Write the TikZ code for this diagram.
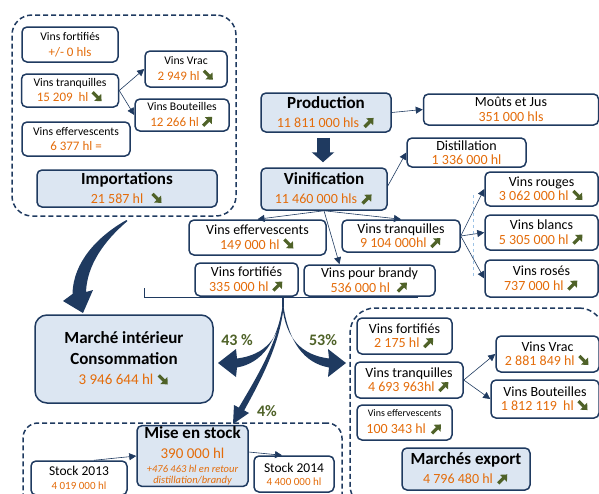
\documentclass[tikz,border=0pt]{standalone}
\usepackage{fontspec}
\setmainfont{Carlito}
\usetikzlibrary{positioning,fit,arrows.meta}
\definecolor{wfnavy}{HTML}{1F3A60}
\definecolor{wfpale}{HTML}{DCE6F2}
\definecolor{wforange}{HTML}{E46C0A}
\definecolor{wfgreen}{HTML}{4F6228}
\definecolor{wfguide}{HTML}{9DC3E6}
\newcommand\wfsmall{\fontsize{11.7}{15.5}\selectfont}
\newcommand\wfmain{\fontsize{14}{14.5}\selectfont}
\newcommand\wfhead{\fontsize{17}{19}\selectfont\bfseries}
\newcommand\wfpct{\fontsize{16}{18}\selectfont\bfseries}
\newcommand\wfval[1]{{\color{wforange}#1}}
\newcommand\wfvalS[1]{{\fontsize{13}{15.5}\selectfont\color{wforange}#1}}
\newcommand\wfvalM[1]{{\fontsize{14}{19}\selectfont\mdseries\color{wforange}#1}}
\newcommand\wfup{\tikz[baseline=0pt,x=1pt,y=1pt]\draw[wfgreen,line width=3.2pt,-{Triangle[length=5.5pt,width=9.5pt]}] (0.5,0.5)--(9.5,9.5);}
\newcommand\wfdown{\tikz[baseline=0pt,x=1pt,y=1pt]\draw[wfgreen,line width=3.2pt,-{Triangle[length=5.5pt,width=9.5pt]}] (0.5,9.5)--(9.5,0.5);}
\tikzset{
	wf_base/.style={font=\wfmain, fill=white, on grid},
	wf_box/.style={wf_base, draw=wfnavy, line width=1.5pt, rectangle, rounded corners=5pt, align=center, inner sep=1pt},
	wf_small/.style={wf_box, font=\wfsmall},
	wf_head/.style={wf_box, fill=wfpale, font=\wfhead},
	wf_group/.style={draw=wfnavy, line width=1.5pt, dash pattern=on 5pt off 3pt, rounded corners=20pt, inner sep=0pt},
	wf_line/.style={draw=wfnavy, line width=0.6pt, -{Triangle[length=7pt,width=7pt]}},
	wf_fat/.style={draw=wfnavy, line width=13pt, -{Triangle[length=10pt,width=22pt]}},
	wf_brace/.style={draw=wfnavy, line width=0.8pt},
	wf_swoosh/.style={fill=wfnavy},
	wf_pct/.style={font=\wfpct, text=wfgreen},
	wf_guide/.style={draw=wfguide, line width=0.8pt, dashed}
}
\begin{document}
\begin{tikzpicture}[x=1pt, y=-1pt]
	\useasboundingbox (0,0) rectangle (599,493);
	% groups
	\node [wf_group, fit={(12,15) (236,216)}] (impgroup) {};
	\node [wf_group, rounded corners=15pt, fit={(23,423) (342,510)}] (stockgroup) {};
	\node [wf_group, rounded corners=25pt, fit={(350,308) (604,510)}] (expgroup) {};

	% importations
	\node [wf_small, minimum width=96pt, minimum height=35pt] (ifort) at (70,44.5) {Vins fortifiés\\\wfvalS{+/- 0 hls}};
	\node [wf_small, minimum width=97pt, minimum height=33pt, below = 46pt of ifort] (itranq) {Vins tranquilles\\\wfvalS{15 209~ hl} \wfdown};
	\node [wf_small, minimum width=108pt, minimum height=34pt, below right = 48.5pt and 6pt of itranq] (ieff) {Vins effervescents\\\wfvalS{6 377 hl =}};
	\node [wf_small, minimum width=82pt, minimum height=36pt] (ivrac) at (186,69) {Vins Vrac\\\wfvalS{2 949 hl} \wfdown};
	\node [wf_small, minimum width=94pt, minimum height=32pt, below left = 46pt and 4pt of ivrac] (ibout) {Vins Bouteilles\\\wfvalS{12 266 hl} \wfup};
	\node [wf_head, minimum width=180pt, minimum height=37pt] (import) at (127,188.5) {Importations\\\wfvalM{21 587 hl}~ \wfdown};
	\path [wf_line] (itranq.east) -- (ivrac.west);
	\path [wf_line] (itranq.east) -- (ibout.west);

	% production
	\node [wf_head, minimum width=130pt, minimum height=39pt] (prod) at (326,112.5) {Production\\\wfvalM{11 811 000 hls} \wfup};
	\node [wf_box, minimum width=175pt, minimum height=31pt] (mouts) at (511,109.5) {Moûts et Jus\\\wfval{351 000 hls}};
	\node [wf_head, minimum width=126pt, minimum height=42pt] (vinif) at (324,189) {Vinification\\\wfvalM{11 460 000 hls} \wfup};
	\node [wf_box, minimum width=119pt, minimum height=29pt] (distil) at (466.5,152.5) {Distillation\\\wfval{1 336 000 hl}};
	\node [wf_box, minimum width=137pt, minimum height=35pt] (veff) at (257.5,237.5) {Vins effervescents\\\wfval{149 000 hl} \wfdown};
	\node [wf_box, minimum width=118pt, minimum height=32pt] (vtranq) at (401,236) {Vins tranquilles\\\wfval{9 104 000hl} \wfup};
	\node [wf_box, minimum width=103pt, minimum height=33pt] (vfort) at (246.5,279.5) {Vins fortifiés\\\wfval{335 000 hl} \wfup};
	\node [wf_box, minimum width=131pt, minimum height=31pt] (vbrandy) at (369.5,280.5) {Vins pour brandy\\\wfval{536 000 hl}~ \wfup};
	\node [wf_box, minimum width=113pt, minimum height=34pt] (rouges) at (541.5,189) {Vins rouges\\\wfval{3 062 000 hl} \wfdown};
	\node [wf_box, minimum width=113pt, minimum height=35pt, below = 43.5pt of rouges] (blancs) {Vins blancs\\\wfval{5 305 000 hl} \wfup};
	\node [wf_box, minimum width=113pt, minimum height=37pt, below = 46pt of blancs] (roses) {Vins rosés\\\wfval{737 000 hl} \wfup};
	\draw [wf_fat] ([xshift=-3pt,yshift=-5pt]prod.south) -- ([xshift=-1pt,yshift=5pt]vinif.north);
	\path [wf_line] (prod.east) -- (mouts.west);
	\path [wf_line] ([yshift=3pt]vinif.east) -- (distil.west);
	\path [wf_line] (vinif.south) -- (veff.north);
	\path [wf_line] (vinif.south) -- (vtranq.north);
	\path [wf_line] (vinif.south) -- ([xshift=-30pt]vbrandy.north);
	\draw [wf_guide] (473,195) -- (473,276);
	\path [wf_line] (vtranq.east) -- (rouges.west);
	\path [wf_line] (vtranq.east) -- (blancs.west);
	\path [wf_line] (vtranq.east) -- (roses.west);

	% marche interieur
	\node [wf_head, rounded corners=12pt, font=\fontsize{17}{20.5}\selectfont\bfseries, minimum width=178pt, minimum height=88pt] (marche) at (124,359) {Marché intérieur\\Consommation\\{\fontsize{15}{20.5}\selectfont\mdseries\color{wforange}3 946 644 hl} \wfdown};

	% stock
	\node [wf_head, font=\fontsize{17}{20}\selectfont\bfseries, minimum width=111pt, minimum height=60pt] (mise) at (192.5,456) {Mise en stock\\{\fontsize{15}{20}\selectfont\mdseries\color{wforange}390 000 hl}\\[-6.3pt]{\fontsize{10.5}{12}\selectfont\mdseries\itshape\color{wforange}+476 463 hl en retour}\\[-8.5pt]{\fontsize{10.5}{12}\selectfont\mdseries\itshape\color{wforange}distillation/brandy}};
	\node [wf_box, font=\fontsize{13.5}{14}\selectfont, minimum width=96pt, minimum height=34pt] (st13) at (79,478) {Stock 2013\\{\fontsize{11}{14}\selectfont\color{wforange}4 019 000 hl}};
	\node [wf_box, font=\fontsize{13.5}{13}\selectfont, minimum width=80pt, minimum height=36pt] (st14) at (294,474) {Stock 2014\\{\fontsize{11}{13}\selectfont\color{wforange}4 400 000 hl}};
	\path [wf_line] ([xshift=15pt]st13.north) -- (mise.west);
	\path [wf_line] ([yshift=4pt]mise.east) -- ([xshift=-12pt]st14.north);

	% export
	\node [wf_box, minimum width=95pt, minimum height=36pt] (efort) at (404.5,336) {Vins fortifiés\\\wfval{2 175 hl} \wfup};
	\node [wf_box, minimum width=108pt, minimum height=36pt, below right = 44pt and 4.5pt of efort] (etranq) {Vins tranquilles\\\wfval{4 693 963hl} \wfup};
	\node [wf_box, font=\fontsize{10}{17}\selectfont, minimum width=95pt, minimum height=35pt] (eeff) at (404.5,422.5) {Vins effervescents\\{\fontsize{14}{17}\selectfont\color{wforange}100 343 hl}~ \wfup};
	\node [wf_box, minimum width=103pt, minimum height=36pt] (evrac) at (547.5,354) {Vins Vrac\\\wfval{2 881 849 hl} \wfdown};
	\node [wf_box, minimum width=108pt, minimum height=38pt] (ebout) at (545,399) {Vins Bouteilles\\\wfval{1 812 119~ hl} \wfdown};
	\node [wf_head, minimum width=128pt, minimum height=42pt] (export) at (466,469) {Marchés export\\\wfvalM{4 796 480 hl} \wfup};
	\path [wf_line] (etranq.east) -- (evrac.west);
	\path [wf_line] (etranq.east) -- (ebout.west);

	% repartition
	\coordinate (split) at (283,307);
	\draw [wf_brace] (144,288) |- (418,297);
	\draw [wf_brace, line width=2.6pt] (283,297) -- (split);
	\fill [wf_swoosh] (126.5,220) .. controls (98,236) and (73,262) .. (72.5,294) -- (63,301) -- (83,313) -- (93,290) -- (86,292) .. controls (87,265) and (104,241) .. (127.5,221) -- cycle;
	\fill [wf_swoosh] ([xshift=0.6pt]split) .. controls (280,338) and (265,355) .. (237,358.5) -- (236,349) -- (218,363) -- (236,377) -- (237,367.5) .. controls (262,363) and (277,342) .. ([xshift=-0.6pt]split) -- cycle;
	\fill [wf_swoosh] ([xshift=-0.6pt]split) .. controls (286,338) and (301,355) .. (329,358.5) -- (328,349) -- (346,363) -- (328,377) -- (329,367.5) .. controls (304,363) and (289,342) .. ([xshift=0.6pt]split) -- cycle;
	\fill [wf_swoosh] ([xshift=-0.3pt]split) .. controls (277.5,345) and (252.5,384) .. (238.8,407.6) -- (234,405) -- (233,424) -- (249,413) -- (244.2,410.4) .. controls (257.5,386) and (280.5,345) .. ([xshift=0.3pt]split) -- cycle;
	\node [wf_pct] (p43) at (237,340) {43 \%};
	\node [wf_pct] (p53) at (323,340) {53\%};
	\node [wf_pct] (p4) at (267,411) {4\%};
\end{tikzpicture}
\end{document}
